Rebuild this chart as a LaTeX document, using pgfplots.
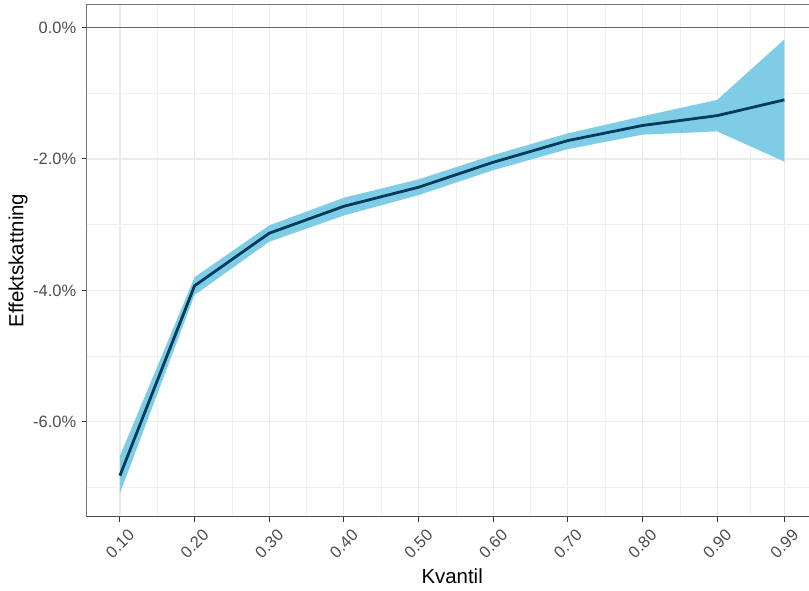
\documentclass[border=0pt]{standalone}
\usepackage{pgfplots}
\pgfplotsset{compat=1.18}
\usepackage{pgfplotstable}
\usepgfplotslibrary{fillbetween}
\usepackage{fontspec}
\setmainfont{Liberation Sans}
\definecolor{bandcol}{RGB}{126,204,229}
\definecolor{linecol}{RGB}{0,60,90}
\definecolor{gridcol}{RGB}{235,235,235}
\definecolor{ticklab}{RGB}{77,77,77}
\pgfplotstableread{
q    mid    lo     hi
0.10 -6.82 -7.09 -6.52
0.20 -3.93 -4.07 -3.80
0.30 -3.13 -3.26 -3.01
0.40 -2.72 -2.86 -2.59
0.50 -2.43 -2.55 -2.31
0.60 -2.05 -2.17 -1.94
0.70 -1.72 -1.85 -1.61
0.80 -1.49 -1.63 -1.35
0.90 -1.34 -1.58 -1.10
0.99 -1.10 -2.04 -0.18
}\datatable
\begin{document}
\begin{tikzpicture}
\begin{axis}[
  scale only axis,
  width=730.9bp, height=512.4bp,
  xmin=0.0555, xmax=1.0345,
  ymin=-7.445, ymax=0.3545,
  xtick={0.1,0.2,0.3,0.4,0.5,0.6,0.7,0.8,0.9,0.99},
  xticklabels={0.10,0.20,0.30,0.40,0.50,0.60,0.70,0.80,0.90,0.99},
  minor xtick={0.15,0.25,0.35,0.45,0.55,0.65,0.75,0.85,0.945},
  ytick={-6,-4,-2,0},
  yticklabels={-6.0\%,-4.0\%,-2.0\%,0.0\%},
  minor ytick={-7,-5,-3,-1},
  grid=both,
  major grid style={color=gridcol, line width=1.2bp},
  minor grid style={color=gridcol!80, line width=0.6bp},
  xtick pos=left, ytick pos=left,
  tick align=outside,
  major tick length=5bp,
  minor tick length=0pt,
  tick style={color=black!80, line width=1bp},
  axis line style={draw=black!55, line width=1bp},
  tick label style={font=\fontsize{16.5}{19}\selectfont, text=ticklab},
  yticklabel style={xshift=-2bp},
  xticklabel style={yshift=-22bp, rotate=45, anchor=center},
  every axis y label/.style={at={(axis description cs:-0.094,0.5)}, rotate=90, anchor=center},
  every axis x label/.style={at={(axis description cs:0.5,-0.1167)}, anchor=center},
  label style={font=\fontsize{20.5}{24}\selectfont},
  xlabel={Kvantil},
  ylabel={Effektskattning},
  clip=true,
]
\addplot[draw=none, name path=hi, forget plot] table[x=q, y=hi]{\datatable};
\addplot[draw=none, name path=lo, forget plot] table[x=q, y=lo]{\datatable};
\addplot[fill=bandcol, draw=none] fill between[of=hi and lo];
\addplot[color=black!60, line width=1.3bp] coordinates {(0.0555,0) (1.0345,0)};
\addplot[color=linecol, line width=2.8bp] table[x=q, y=mid]{\datatable};
\draw[black!70, line width=1.5bp] (rel axis cs:0,0) -- (rel axis cs:1,0);
\end{axis}
\pgfresetboundingbox
\path[use as bounding box] (-86.7bp,-74.3bp) rectangle (722.3bp,516.7bp);
\end{tikzpicture}
\end{document}
